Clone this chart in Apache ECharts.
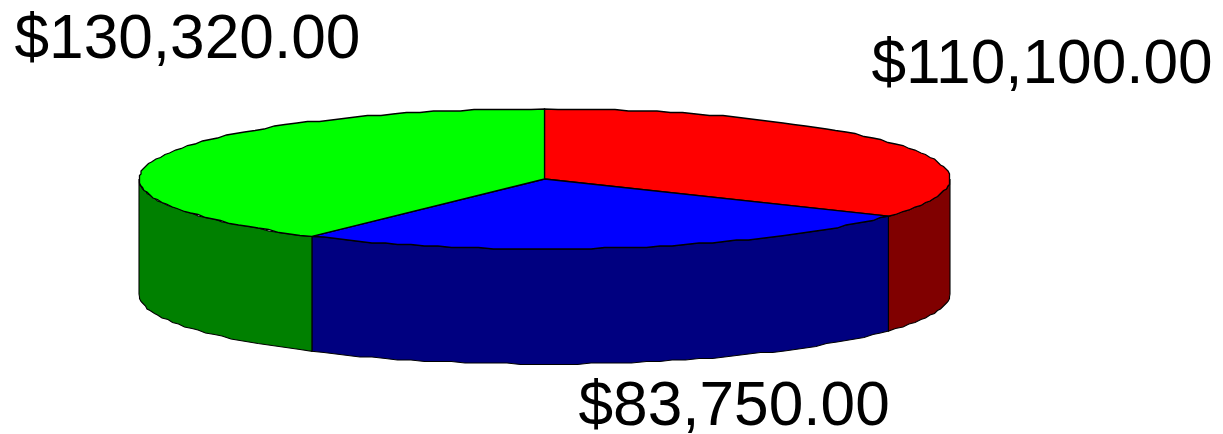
<!DOCTYPE html>
<html><head><meta charset="utf-8">
<style>html,body{margin:0;padding:0;background:#fff}#c{width:1223px;height:434px}</style>
<script src="https://cdn.jsdelivr.net/npm/echarts@6/dist/echarts.min.js"></script>
</head><body><div id="c"></div>
<script>
const categories = ['Red', 'Blue', 'Green'];
const amounts = [110100, 83750, 130320];
const topColors = ['#ff0000', '#0000ff', '#00ff00'];
const sideColors = ['#800000', '#000080', '#008000'];

const CX = 544.5, CY = 179, RX = 405.5, RY = 70, DEPTH = 115;
const labelPos = [[871.5, 66], [578.5, 407.5], [14.5, 41]];
const total = amounts.reduce((a, b) => a + b, 0);
const STEP = 2, GRID = 1.5;
const snap = v => Math.round(v / GRID) * GRID;
function pt(deg, dy, exact) {
  const r = deg * Math.PI / 180;
  const x = CX + RX * Math.sin(r), y = CY - RY * Math.cos(r) + dy;
  return exact ? [x, y] : [snap(x), snap(y)];
}
function arc(a, b, dy) {
  const out = [pt(a, dy, true)];
  const n = Math.max(1, Math.ceil(Math.abs(b - a) / STEP));
  for (let i = 1; i < n; i++) out.push(pt(a + (b - a) * i / n, dy));
  out.push(pt(b, dy, true));
  return out;
}
function range(idx) {
  let s = 0;
  for (let i = 0; i < idx; i++) s += amounts[i];
  return [Math.round(s / total * 360), Math.round((s + amounts[idx]) / total * 360)];
}
function sideItem(params) {
  const [a0, b0] = range(params.dataIndex);
  const a = Math.max(a0, 90), b = Math.min(b0, 270);
  if (a >= b) return { type: 'group', children: [] };
  const points = arc(a, b, 0).concat(arc(b, a, DEPTH));
  return { type: 'polygon', shape: { points },
    style: { fill: sideColors[params.dataIndex], stroke: '#000', lineWidth: 1.1 } };
}
function topItem(params, api) {
  const i = params.dataIndex;
  const [a, b] = range(i);
  const points = [[CX, CY]].concat(arc(a, b, 0));
  const money = '$' + api.value(1).toLocaleString('en-US', { minimumFractionDigits: 2, maximumFractionDigits: 2 });
  return { type: 'group', children: [
    { type: 'polygon', shape: { points },
      style: { fill: topColors[i], stroke: '#000', lineWidth: 1.3 } },
    { type: 'text', x: labelPos[i][0], y: labelPos[i][1],
      style: { text: money, fill: '#000', font: '62.2px "Liberation Sans"', textAlign: 'left', textVerticalAlign: 'middle' } }
  ] };
}
const seriesData = categories.map((c, i) => [i, amounts[i]]);
const chart = echarts.init(document.getElementById('c'), null, { renderer: 'canvas' });
chart.setOption({
  animation: false,
  backgroundColor: '#fff',
  series: [
    { type: 'custom', coordinateSystem: 'none', z: 1, silent: true, data: seriesData, renderItem: sideItem },
    { type: 'custom', coordinateSystem: 'none', z: 2, silent: true, data: seriesData, renderItem: topItem }
  ]
});
</script></body></html>
